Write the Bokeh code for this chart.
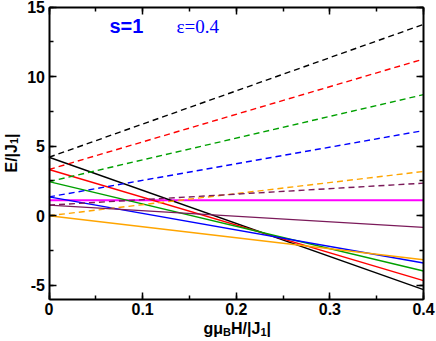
import math
from bokeh.plotting import figure
from bokeh.models import Label, LinearAxis, Range1d, SingleIntervalTicker, CustomJSTickFormatter
from bokeh.embed import file_html
from bokeh.resources import INLINE

# ---- data ----
H = [0.0, 0.4]
colors = ["black", "#ff0000", "#00a000", "#0000ff", "#ffa500", "#7b1a5a"]
E0 = [4.20, 3.32, 2.45, 1.35, 0.00, 0.76]            # energies at H = 0
E_up = [13.75, 11.26, 8.70, 6.12, 3.18, 2.34]        # dashed branches at H = 0.4
E_down = [-5.31, -4.66, -3.97, -3.40, -3.16, -0.84]  # solid branches at H = 0.4
E_flat = [1.12, 1.12]                                 # magenta level
flat_color = "#ff00ff"
x_lim = (0.0, 0.4)
y_lim = (-6.0, 15.0)

FONT = "Liberation Sans"
W, HT = 436, 341
# pixel placement of the axes box inside the canvas
PX_L, PX_R = 48.5, 423.0
PX_T, PX_B = 6.5, 298.7

sx = (x_lim[1] - x_lim[0]) / (PX_R - PX_L)
sy = (y_lim[1] - y_lim[0]) / (PX_B - PX_T)
xr = Range1d(x_lim[0] - PX_L * sx, x_lim[1] + (W - PX_R) * sx)
yr = Range1d(y_lim[0] - (HT - PX_B) * sy, y_lim[1] + PX_T * sy)


def px2x(px):
    return x_lim[0] + (px - PX_L) * sx


def px2y(py):
    return y_lim[0] + (PX_B - py) * sy


p = figure(width=W, height=HT, x_range=xr, y_range=yr,
           output_backend="svg", toolbar_location=None,
           min_border_left=0, min_border_right=0, min_border_top=0, min_border_bottom=0)
p.xgrid.visible = False
p.ygrid.visible = False
p.outline_line_color = None
p.background_fill_color = "white"
p.border_fill_color = "white"

p.line(H, E_flat, line_color=flat_color, line_width=2)
for c, e0, eu, ed in zip(colors, E0, E_up, E_down):
    p.line(H, [e0, eu], line_color=c, line_width=1.4, line_dash="6 4")
    p.line(H, [e0, ed], line_color=c, line_width=1.4)

xfmt = CustomJSTickFormatter(code="return Math.abs(tick) < 1e-9 ? '0' : tick.toFixed(1);")
yfmt = CustomJSTickFormatter(code="return Math.round(tick).toString();")
blank = CustomJSTickFormatter(code="return '';")


def style(ax, show):
    ax.axis_line_width = 2
    ax.axis_line_color = "black"
    ax.major_tick_in = 7
    ax.major_tick_out = 0
    ax.minor_tick_in = 4
    ax.minor_tick_out = 0
    ax.major_tick_line_width = 1.5
    ax.minor_tick_line_width = 1.5
    ax.major_tick_line_color = "black"
    ax.minor_tick_line_color = "black"
    ax.major_label_text_font = FONT
    ax.major_label_text_font_style = "bold"
    ax.major_label_text_font_size = "16px"
    ax.major_label_text_color = "black"
    ax.major_label_standoff = 4 if show else 0


xb = p.xaxis[0]
xb.ticker = SingleIntervalTicker(interval=0.1, num_minor_ticks=2)
xb.formatter = xfmt
xb.fixed_location = y_lim[0]
xb.bounds = x_lim
style(xb, True)

yl = p.yaxis[0]
yl.ticker = SingleIntervalTicker(interval=5, num_minor_ticks=2)
yl.formatter = yfmt
yl.fixed_location = x_lim[0]
yl.bounds = y_lim
style(yl, True)

xt = LinearAxis(ticker=SingleIntervalTicker(interval=0.1, num_minor_ticks=2), formatter=blank,
                fixed_location=y_lim[1], bounds=x_lim)
style(xt, False)
p.add_layout(xt, "above")
yrt = LinearAxis(ticker=SingleIntervalTicker(interval=5, num_minor_ticks=2), formatter=blank,
                 fixed_location=x_lim[1], bounds=y_lim)
style(yrt, False)
p.add_layout(yrt, "right")

# in-plot annotations
p.add_layout(Label(x=px2x(109), y=px2y(25), text="s=1", text_font=FONT, text_font_style="bold",
                   text_font_size="20px", text_color="#0000ff", text_baseline="alphabetic"))
p.add_layout(Label(x=px2x(176), y=px2y(26), text="ε=0.4", text_font="Liberation Serif",
                   text_font_size="19px", text_color="#0000ff", text_baseline="alphabetic"))

# x axis title with subscripts
xparts = [("gμ", 203.0, 328, "16px"), ("B", 222.6, 331, "11px"), ("H/|J", 230.5, 328, "16px"),
          ("1", 259.9, 331, "11px"), ("|", 266.0, 328, "16px")]
for t, px, py, fs in xparts:
    p.add_layout(Label(x=px2x(px), y=px2y(py), text=t, text_font=FONT,
                       text_font_style="bold", text_font_size=fs, text_color="black",
                       text_baseline="alphabetic", text_align="left"))

# y axis title with subscript (rotated)
yparts = [("E/|J", 10.5, 172.0, "16px"), ("1", 13.5, 143.5, "11px"), ("|", 10.5, 137.4, "16px")]
for t, px, py, fs in yparts:
    p.add_layout(Label(x=px2x(px), y=px2y(py), text=t, text_font=FONT,
                       text_font_style="bold", text_font_size=fs, text_color="black",
                       text_baseline="alphabetic", text_align="left", angle=math.pi / 2))

open("out.html", "w").write(file_html(p, INLINE))
